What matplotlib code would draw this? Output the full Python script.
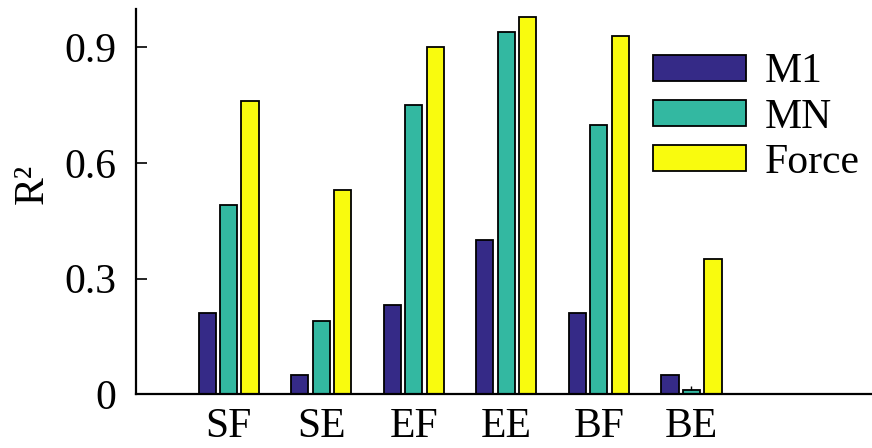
import matplotlib
matplotlib.use("Agg")
import matplotlib.pyplot as plt
import numpy as np

categories = ["SF", "SE", "EF", "EE", "BF", "BE"]
series_names = ["M1", "MN", "Force"]
m1 = [0.21, 0.05, 0.23, 0.40, 0.21, 0.05]
mn = [0.49, 0.19, 0.75, 0.94, 0.70, 0.01]
force = [0.76, 0.53, 0.90, 0.98, 0.93, 0.35]
mn_err = [0, 0, 0, 0, 0, 0.012]
yticks = [0, 0.3, 0.6, 0.9]
ytick_labels = ["0", "0.3", "0.6", "0.9"]
colors = ["#352a87", "#33b8a1", "#f9fb0e"]

plt.rcParams['font.family'] = ['Liberation Serif', 'DejaVu Serif']

fig = plt.figure(figsize=(8.72, 4.48), dpi=100)
ax = fig.add_axes([136/872, 1 - 394/448, 1 - 136/872, (394 - 9)/448])

x = np.arange(1, len(categories) + 1)
w = 0.185
off = 0.232
for i, (vals, name, c) in enumerate(zip([m1, mn, force], series_names, colors)):
    ax.bar(x + (i - 1) * off, vals, width=w, color=c, edgecolor="black",
           linewidth=1.3, label=name, zorder=2)
ax.errorbar(x, mn, yerr=[np.zeros(len(mn_err)), mn_err], fmt="none",
            ecolor="black", elinewidth=1.0, capsize=0, zorder=3)

ax.set_xlim(0, 7.95)
ax.set_ylim(0, 1.0)
ax.set_xticks(x)
ax.set_xticklabels(categories, fontsize=30)
ax.set_yticks(yticks)
ax.set_yticklabels(ytick_labels, fontsize=30)
ax.tick_params(axis='y', direction='in', length=8, width=1.2, pad=14)
ax.tick_params(axis='x', length=0, pad=10)
ax.spines['top'].set_visible(False)
ax.spines['right'].set_visible(False)
ax.spines['left'].set_linewidth(1.6)
ax.spines['bottom'].set_linewidth(1.6)
ax.set_ylabel("R²", fontsize=30)
ax.yaxis.set_label_coords(-84/736, 0.545)

ax.legend(loc="upper left", bbox_to_anchor=(653/872, 1 - 53/448),
          bbox_transform=fig.transFigure, frameon=False, fontsize=30,
          handlelength=2.23, handleheight=0.6, handletextpad=0.45,
          labelspacing=0.16, borderpad=0, borderaxespad=0)

fig.savefig("out.png", dpi=100)
